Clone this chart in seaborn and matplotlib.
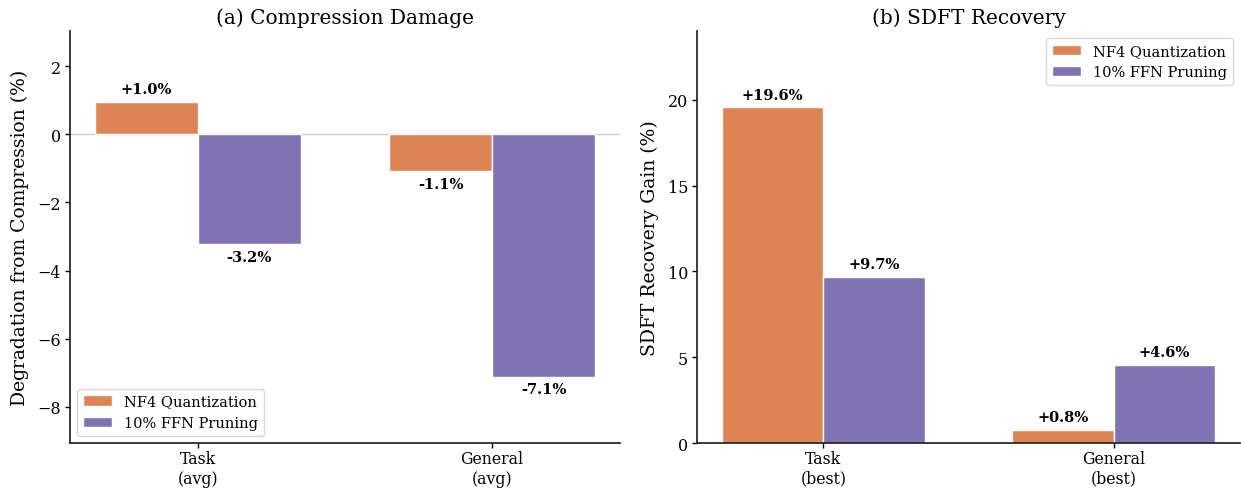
import matplotlib
matplotlib.use("Agg")
import matplotlib.pyplot as plt
import pandas as pd
import seaborn as sns

# Categories and series
methods = ["NF4 Quantization", "10% FFN Pruning"]
damage_groups = ["Task\n(avg)", "General\n(avg)"]
recovery_groups = ["Task\n(best)", "General\n(best)"]

damage_nf4 = [0.96, -1.08]
damage_prune = [-3.22, -7.12]
recovery_nf4 = [19.56, 0.76]
recovery_prune = [9.68, 4.56]

palette = ["#DD8452", "#8172B3"]

sns.set_theme(style="ticks")
plt.rcParams["font.family"] = "serif"
plt.rcParams["font.serif"] = ["DejaVu Serif"]
plt.rcParams["text.color"] = "black"
plt.rcParams["axes.labelcolor"] = "black"
plt.rcParams["xtick.color"] = "black"
plt.rcParams["ytick.color"] = "black"
plt.rcParams["axes.edgecolor"] = "#222222"


def long_frame(groups, a, b):
    rows = []
    for g, va, vb in zip(groups, a, b):
        rows.append({"group": g, "method": methods[0], "value": va})
        rows.append({"group": g, "method": methods[1], "value": vb})
    return pd.DataFrame(rows)


df_damage = long_frame(damage_groups, damage_nf4, damage_prune)
df_recovery = long_frame(recovery_groups, recovery_nf4, recovery_prune)

fig = plt.figure(figsize=(12.41, 4.89), dpi=100)
ax1 = fig.add_axes([0.0564, 0.092, 0.4432, 0.8425])
ax2 = fig.add_axes([0.5617, 0.092, 0.4376, 0.8425])


def draw(ax, df, title, ylabel, ylim, legend_loc):
    sns.barplot(data=df, x="group", y="value", hue="method", hue_order=methods,
                palette=palette, width=0.7, gap=0, edgecolor="white",
                linewidth=1, saturation=1, errorbar=None, ax=ax)
    for container, method in zip(ax.containers, methods):
        vals = df[df["method"] == method]["value"].tolist()
        for bar, v in zip(container, vals):
            x = bar.get_x() + bar.get_width() / 2
            if v >= 0:
                ax.annotate(f"{v:+.1f}%", (x, v), xytext=(0, 4),
                            textcoords="offset points", ha="center",
                            va="bottom", fontsize=10.5, fontweight="bold")
            else:
                ax.annotate(f"{v:.1f}%", (x, v), xytext=(0, -4),
                            textcoords="offset points", ha="center",
                            va="top", fontsize=10.5, fontweight="bold")
    ax.set_xlim(-0.435, 1.435)
    ax.set_ylim(*ylim)
    ax.set_title(title, fontsize=14.5)
    ax.set_xlabel("")
    ax.set_ylabel(ylabel, fontsize=13.5, labelpad=6)
    ax.tick_params(axis="y", labelsize=11.5, length=3.5, width=1, pad=3)
    ax.tick_params(axis="x", labelsize=11.3, length=3.5, width=1, pad=1.5)
    handles, labels = ax.get_legend_handles_labels()
    ax.legend(handles, labels, loc=legend_loc, fontsize=10.5, frameon=True)
    sns.despine(ax=ax)


draw(ax1, df_damage, "(a) Compression Damage",
     "Degradation from Compression (%)", (-9.06, 3.03), "lower left")
ax1.axhline(0, color="#cccccc", linewidth=1, zorder=0.5)

draw(ax2, df_recovery, "(b) SDFT Recovery",
     "SDFT Recovery Gain (%)", (0, 24.0), "upper right")
ax2.set_yticks([0, 5, 10, 15, 20])

fig.savefig("out.png", dpi=100)
